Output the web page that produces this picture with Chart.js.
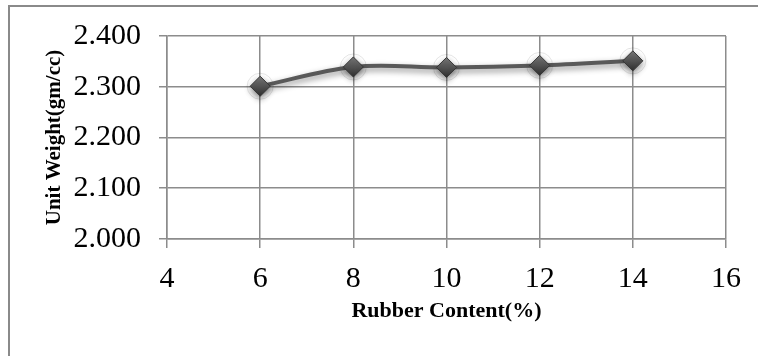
<!DOCTYPE html>
<html>
<head>
<meta charset="utf-8">
<script src="https://cdn.jsdelivr.net/npm/chart.js@4"></script>
<style>
  html, body { margin: 0; padding: 0; background: #fff; }
  #wrap { width: 758px; height: 356px; position: relative; }
</style>
</head>
<body>
<div id="wrap"><canvas id="c" width="758" height="356"></canvas></div>
<script>
// Rubber content (%) and measured unit weight (gm/cc)
const rubberContent = [6, 8, 10, 12, 14];
const unitWeight = [2.301, 2.339, 2.338, 2.342, 2.351];
const xTicks = [4, 6, 8, 10, 12, 14, 16];
const yTicks = [2.0, 2.1, 2.2, 2.3, 2.4];

const points = rubberContent.map((x, i) => ({ x: x, y: unitWeight[i] }));

// Outer frame around the whole chart
const framePlugin = {
  id: 'frame',
  beforeDraw(chart) {
    const ctx = chart.ctx;
    ctx.save();
    ctx.fillStyle = '#ffffff';
    ctx.fillRect(0, 0, chart.width, chart.height);
    ctx.strokeStyle = '#8a8a8a';
    ctx.lineWidth = 2;
    ctx.strokeRect(9, 6, 820, 420);
    ctx.restore();
  }
};

// Soft drop shadow under the diamond markers
const shadowPlugin = {
  id: 'markerShadow',
  beforeDatasetDraw(chart, args) {
    if (args.index === 1) {
      const ctx = chart.ctx;
      ctx.save();
      ctx.shadowColor = 'rgba(0,0,0,0.45)';
      ctx.shadowBlur = 6;
      ctx.shadowOffsetY = 3;
    }
  },
  afterDatasetDraw(chart, args) {
    if (args.index === 1) chart.ctx.restore();
  }
};

// Shaded fill for each diamond: lighter at the top, darker below
function diamondFill(context) {
  const chart = context.chart;
  const raw = context.raw;
  if (!raw || !chart.scales || !chart.scales.y || !chart.chartArea) return '#4d4d4d';
  const cy = chart.scales.y.getPixelForValue(raw.y);
  const g = chart.ctx.createLinearGradient(0, cy - 10, 0, cy + 10);
  g.addColorStop(0, '#7a7a7a');
  g.addColorStop(0.5, '#555555');
  g.addColorStop(1, '#2f2f2f');
  return g;
}

const serif = '"Liberation Serif", "Times New Roman", serif';

new Chart(document.getElementById('c'), {
  type: 'scatter',
  data: {
    datasets: [
      {
        // faint halo ring around each marker
        data: points,
        showLine: false,
        pointStyle: 'circle',
        pointRadius: 13,
        pointBackgroundColor: 'rgba(255,255,255,0)',
        pointBorderColor: 'rgba(0,0,0,0.1)',
        pointBorderWidth: 1,
        order: 3
      },
      {
        data: points,
        showLine: true,
        borderColor: '#595959',
        borderWidth: 4,
        tension: 0.35,
        pointStyle: 'rectRot',
        pointRadius: 10,
        pointBackgroundColor: diamondFill,
        pointBorderColor: '#363636',
        pointBorderWidth: 1,
        order: 1
      }
    ]
  },
  options: {
    responsive: false,
    animation: false,
    events: [],
    layout: { padding: { left: 0, top: 35, right: 32, bottom: 0 } },
    plugins: {
      legend: { display: false },
      tooltip: { enabled: false }
    },
    scales: {
      x: {
        type: 'linear',
        min: 4,
        max: 16,
        afterBuildTicks(scale) { scale.ticks = xTicks.map(v => ({ value: v })); },
        afterFit(scale) { scale.height = 117; },
        grid: { color: '#8c8c8c', lineWidth: 1.5, tickLength: 9, drawTicks: true },
        border: { color: '#8c8c8c', width: 1.5 },
        ticks: {
          padding: 13,
          color: '#000',
          maxRotation: 0,
          font: { family: serif, size: 30 },
          callback: v => String(v)
        },
        title: {
          display: true,
          text: 'Rubber Content(%)',
          color: '#000',
          font: { family: serif, size: 22, weight: 'bold' },
          padding: { top: 0, bottom: 31 }
        }
      },
      y: {
        type: 'linear',
        min: 2.0,
        max: 2.4,
        afterBuildTicks(scale) { scale.ticks = yTicks.map(v => ({ value: v })); },
        afterFit(scale) { scale.width = 167; },
        grid: { color: '#8c8c8c', lineWidth: 1.5, tickLength: 8, drawTicks: true },
        border: { color: '#8c8c8c', width: 1.5 },
        ticks: {
          padding: 18,
          color: '#000',
          font: { family: serif, size: 30 },
          callback: v => Number(v).toFixed(3)
        },
        title: {
          display: true,
          text: 'Unit Weight(gm/cc)',
          color: '#000',
          font: { family: serif, size: 21, weight: 'bold' },
          padding: { top: 42, bottom: 0 }
        }
      }
    }
  },
  plugins: [framePlugin, shadowPlugin]
});
</script>
</body>
</html>
